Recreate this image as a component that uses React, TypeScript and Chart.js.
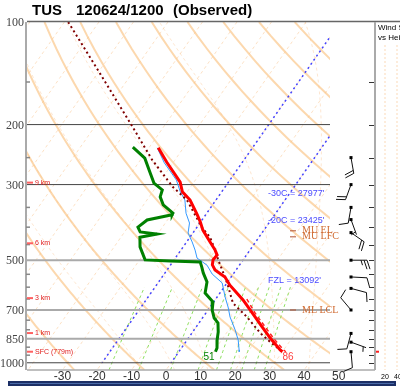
import React, { useEffect, useRef } from "react";
import { Chart, registerables } from "chart.js";

Chart.register(...registerables);

// ---------- titles ----------
const TITLE_STATION = "TUS";
const TITLE_TIME = "120624/1200";
const TITLE_KIND = "(Observed)";

// ---------- diagram frame ----------
const P_TOP = 100;
const P_BOTTOM = 1050;
const X_LEFT = -40.3;
const X_RIGHT = 47.5;
const SKEW = 30; // deg C per unit ln(p)

const PRESSURE_LINES = [200, 300, 500, 700, 850, 1000];
const PRESSURE_LINE_DARK = [true, true, false, false, false, true];
const PRESSURE_LABELS = [100, 200, 300, 500, 700, 850, 1000];
const PRESSURE_TICKS = [150, 250, 350, 400, 450, 550, 600, 650, 750, 800, 900, 950];
const WIND_TICKS = [150, 200, 250, 300, 350, 400, 450, 500, 550, 600, 650, 700, 750, 800, 850, 900, 950, 1000];
const TEMP_TICKS = [-30, -20, -10, 0, 10, 20, 30, 40, 50];

// ---------- background lines ----------
const ISOTHERMS = [-110, -100, -90, -80, -70, -60, -50, -40, -30, -20, -10, 0, 10, 20, 30, 40];
const DRY_ADIABATS_K = [243.15, 263.15, 283.15, 303.15, 323.15, 343.15, 363.15, 383.15, 403.15, 423.15, 443.15, 463.15, 483.15];
const MOIST_ADIABATS_C = [-10, 0, 10, 20, 30, 40];
const MIXING_RATIOS = [1, 2, 4, 7, 10, 13, 16, 20, 24];
const BLUE_ISOTHERMS = [-20, 0];

// ---------- observed profile ----------
const TEMP_P = [234, 258, 295, 315, 333, 368, 386, 408, 442, 467, 483, 499, 516, 534, 560, 592, 654, 714, 785, 846, 917, 928];
const TEMP_T = [-47.3, -41.9, -34.0, -31.4, -27.5, -22.4, -20.1, -17.7, -13.2, -10.1, -8.5, -8.7, -7.9, -6.1, -1.8, 1.3, 8.1, 13.4, 19.1, 23.7, 29.0, 30.0];

const DEW_P = [233, 251, 277, 297, 311, 326, 344, 364, 368, 381, 400, 413, 419, 428, 457, 499, 503, 506, 524, 545, 579, 624, 663, 700, 739, 764, 812, 857, 905, 928];
const DEW_T = [-54.8, -49.1, -44.6, -41.4, -37.6, -36.8, -34.3, -29.8, -29.7, -35.9, -37.1, -35.5, -30.2, -34.5, -32.5, -28.4, -20.9, -12.0, -10.5, -8.9, -6.0, -4.3, -0.2, 1.2, 3.4, 5.5, 7.4, 8.7, 10.3, 10.6];

const WETBULB_P = [234, 259, 291, 315, 333, 364, 389, 416, 442, 467, 493, 517, 549, 583, 641, 686, 734, 801, 857, 917, 928];
const WETBULB_T = [-47.6, -42.5, -35.5, -32.0, -29.0, -26.0, -23.0, -21.4, -18.4, -15.9, -13.7, -9.4, -6.1, -1.4, 2.3, 5.2, 7.8, 11.9, 14.8, 17.1, 17.5];

const PARCEL_P = [100, 142, 202, 254, 305, 333, 400, 428, 467, 499, 560, 592, 668, 734, 818, 869, 928];
const PARCEL_T = [-98.9, -79.1, -59.3, -46.6, -35.1, -28.4, -18.6, -14.2, -10.1, -7.2, -1.8, 0.7, 5.8, 12.7, 19.8, 24.5, 30.0];

const VIRTUAL_P = [650, 714, 785, 846, 917, 928];
const VIRTUAL_T = [9.0, 14.2, 20.0, 24.6, 30.0, 31.0];

// ---------- winds ----------
const WIND_P = [250, 300, 350, 380, 415, 500, 560, 605, 700, 820, 870, 928];
const WIND_DIR = [170, 200, 190, 160, 125, 90, 93, 105, 320, 195, 110, 175];
const WIND_KT = [20, 20, 10, 5, 20, 25, 10, 10, 10, 10, 5, 10];

// ---------- annotations ----------
const HEIGHT_LABELS = ["9 km", "6 km", "3 km", "1 km", "SFC (779m)"];
const HEIGHT_P = [296, 446, 646, 818, 928];
const LEVEL_LABELS = ["-30C = 27977'", "-20C = 23425'", "FZL = 13092'"];
const LEVEL_P = [322, 388, 580];
const PARCEL_LABELS = ["MU EL", "MU LFC", "ML LCL"];
const PARCEL_LABEL_P = [410, 427, 700];
const SFC_DEW_F = "51";
const SFC_TEMP_F = "86";

const skewX = (t: number, p: number) => t + SKEW * Math.log(P_BOTTOM / p);
const profile = (ps: number[], ts: number[]) => ps.map((p, i) => ({ x: skewX(ts[i], p), y: p }));

const LEVELS: number[] = [];
for (let p = P_TOP; p <= P_BOTTOM; p += 10) LEVELS.push(p);

function dryAdiabat(theta: number) {
  return LEVELS.map((p) => ({ x: skewX(theta * Math.pow(p / 1000, 0.2857) - 273.15, p), y: p }));
}

function moistRate(T: number, p: number) {
  const tc = T - 273.15;
  const es = 6.112 * Math.exp((17.67 * tc) / (tc + 243.5));
  const rs = (0.622 * es) / (p - es);
  const num = 287 * T + 2.5e6 * rs;
  const den = 1005 + (2.5e6 * 2.5e6 * rs * 0.622) / (287 * T * T);
  return num / den / p;
}

function moistAdiabat(t1000: number) {
  let T = t1000 + 273.15;
  for (let p = 1000; p < P_BOTTOM; p += 5) {
    T += moistRate(T + moistRate(T, p) * 2.5, p + 2.5) * 5;
  }
  const pts: { x: number; y: number }[] = [{ x: skewX(T - 273.15, P_BOTTOM), y: P_BOTTOM }];
  T = t1000 + 273.15;
  pts.push({ x: skewX(t1000, 1000), y: 1000 });
  for (let p = 1000; p > P_TOP; p -= 5) {
    T -= moistRate(T - moistRate(T, p) * 2.5, p - 2.5) * 5;
    pts.push({ x: skewX(T - 273.15, p - 5), y: p - 5 });
  }
  return pts;
}

function mixingLine(w: number) {
  const pts: { x: number; y: number }[] = [];
  for (let p = P_BOTTOM; p >= 600; p -= 25) {
    const e = (w * p) / (622 + w);
    const l = Math.log(e / 6.112);
    const td = (243.5 * l) / (17.67 - l);
    pts.push({ x: skewX(td, p), y: p });
  }
  return pts;
}

function line(data: any[], color: string, width: number, dash: number[], order: number) {
  return {
    data,
    borderColor: color,
    backgroundColor: color,
    borderWidth: width,
    borderDash: dash,
    showLine: true,
    pointRadius: 0,
    pointHoverRadius: 0,
    fill: false,
    tension: 0,
    order,
  };
}

function drawBarb(ctx: CanvasRenderingContext2D, x: number, y: number, dir: number, spd: number) {
  const rad = (dir * Math.PI) / 180;
  const dx = Math.sin(rad);
  const dy = -Math.cos(rad);
  const L = 16;
  const ex = x + dx * L;
  const ey = y + dy * L;
  ctx.strokeStyle = "#111";
  ctx.lineWidth = 1;
  ctx.beginPath();
  ctx.moveTo(x, y);
  ctx.lineTo(ex, ey);
  ctx.stroke();
  ctx.fillStyle = "#000";
  ctx.fillRect(x - 1.5, y - 1.5, 3, 3);
  const px = -dy;
  const py = dx;
  let s = Math.round(spd / 5) * 5;
  let pos = 0;
  while (s >= 10) {
    const bx = ex - dx * pos;
    const by = ey - dy * pos;
    ctx.beginPath();
    ctx.moveTo(bx, by);
    ctx.lineTo(bx + px * 9 + dx * 3, by + py * 9 + dy * 3);
    ctx.stroke();
    pos += 3;
    s -= 10;
  }
  if (s >= 5) {
    if (pos === 0) pos = 3;
    const bx = ex - dx * pos;
    const by = ey - dy * pos;
    ctx.beginPath();
    ctx.moveTo(bx, by);
    ctx.lineTo(bx + px * 5 + dx * 1.5, by + py * 5 + dy * 1.5);
    ctx.stroke();
  }
}

const overlay = {
  id: "overlay",
  beforeDraw(chart: any) {
    const ctx = chart.ctx;
    ctx.save();
    ctx.fillStyle = "#ffffff";
    ctx.fillRect(0, 0, chart.width, chart.height);
    ctx.restore();
  },
  afterDraw(chart: any) {
    const ctx: CanvasRenderingContext2D = chart.ctx;
    const xs = chart.scales.x;
    const ys = chart.scales.y;
    const a = chart.chartArea;
    ctx.save();

    // frame
    ctx.strokeStyle = "#666";
    ctx.lineWidth = 1.5;
    ctx.beginPath();
    ctx.moveTo(a.left, a.top - 0.5);
    ctx.lineTo(400, a.top - 0.5);
    ctx.stroke();
    ctx.strokeStyle = "#aaa";
    ctx.lineWidth = 2;
    ctx.beginPath();
    ctx.moveTo(a.left - 1, a.top);
    ctx.lineTo(a.left - 1, a.bottom);
    ctx.stroke();
    ctx.lineWidth = 1.5;
    ctx.beginPath();
    ctx.moveTo(a.left, a.bottom);
    ctx.lineTo(375, a.bottom);
    ctx.stroke();
    ctx.lineWidth = 2;
    ctx.beginPath();
    ctx.moveTo(375, a.top);
    ctx.lineTo(375, a.bottom);
    ctx.stroke();

    // left ticks
    ctx.strokeStyle = "#888";
    ctx.lineWidth = 1.5;
    PRESSURE_TICKS.forEach((p) => {
      const y = ys.getPixelForValue(p);
      ctx.beginPath();
      ctx.moveTo(a.left - 1, y);
      ctx.lineTo(a.left + 3, y);
      ctx.stroke();
    });
    // wind column ticks
    ctx.strokeStyle = "#333";
    ctx.lineWidth = 1;
    WIND_TICKS.forEach((p) => {
      const y = Math.round(ys.getPixelForValue(p)) + 0.5;
      ctx.beginPath();
      ctx.moveTo(369, y);
      ctx.lineTo(374, y);
      ctx.stroke();
    });

    // pressure labels
    ctx.fillStyle = "#444";
    ctx.font = "12px 'Liberation Serif'";
    ctx.textAlign = "right";
    ctx.textBaseline = "middle";
    PRESSURE_LABELS.forEach((p) => ctx.fillText(String(p), 24, ys.getPixelForValue(p) + 1));

    // temperature labels
    ctx.fillStyle = "#333";
    ctx.font = "12px 'Liberation Sans'";
    ctx.textAlign = "center";
    TEMP_TICKS.forEach((t) => ctx.fillText(String(t), xs.getPixelForValue(t), 377));

    // title
    ctx.fillStyle = "#000";
    ctx.font = "bold 15px 'Liberation Sans'";
    ctx.textAlign = "left";
    ctx.textBaseline = "alphabetic";
    ctx.fillText(TITLE_STATION, 32, 15);
    ctx.fillText(TITLE_TIME, 76, 15);
    ctx.fillText(TITLE_KIND, 173, 15);

    // height labels
    ctx.font = "7px 'Liberation Sans'";
    ctx.textBaseline = "middle";
    HEIGHT_LABELS.forEach((t, i) => {
      const y = ys.getPixelForValue(HEIGHT_P[i]);
      ctx.strokeStyle = "#ff6060";
      ctx.lineWidth = 2;
      ctx.beginPath();
      ctx.moveTo(a.left, y);
      ctx.lineTo(a.left + 6, y);
      ctx.stroke();
      ctx.fillStyle = "#e02020";
      ctx.fillText(t, a.left + 8, y);
    });

    // level labels
    ctx.font = "9px 'Liberation Sans'";
    ctx.fillStyle = "#4a4aff";
    LEVEL_LABELS.forEach((t, i) => ctx.fillText(t, 268, ys.getPixelForValue(LEVEL_P[i]) - 2));

    // parcel labels
    ctx.font = "10px 'Liberation Serif'";
    PARCEL_LABELS.forEach((t, i) => {
      const y = ys.getPixelForValue(PARCEL_LABEL_P[i]);
      ctx.strokeStyle = "#b05030";
      ctx.lineWidth = 1;
      ctx.beginPath();
      ctx.moveTo(290, y);
      ctx.lineTo(296, y);
      ctx.stroke();
      ctx.fillStyle = "#d06a30";
      ctx.fillText(t, 302, y);
    });

    // surface values
    ctx.font = "10px 'Liberation Sans'";
    ctx.textAlign = "center";
    ctx.fillStyle = "#008000";
    ctx.fillText(SFC_DEW_F, 209, 357);
    ctx.fillStyle = "#ff4040";
    ctx.fillText(SFC_TEMP_F, 288, 357);

    // wind barbs
    WIND_P.forEach((p, i) => drawBarb(ctx, 351, ys.getPixelForValue(p), WIND_DIR[i], WIND_KT[i]));

    // right panel
    ctx.fillStyle = "#000";
    ctx.textAlign = "left";
    ctx.font = "8px 'Liberation Sans'";
    ctx.fillText("Wind S", 378, 28);
    ctx.fillText("vs Hei", 378, 38);
    ctx.strokeStyle = "#fbd9b8";
    ctx.setLineDash([2, 2]);
    [385, 397].forEach((x) => {
      ctx.beginPath();
      ctx.moveTo(x, 45);
      ctx.lineTo(x, a.bottom);
      ctx.stroke();
    });
    ctx.setLineDash([]);
    ctx.fillStyle = "#ff2020";
    ctx.fillRect(376, ys.getPixelForValue(HEIGHT_P[4]) - 1, 3, 2);
    ctx.fillStyle = "#000";
    ctx.font = "7px 'Liberation Sans'";
    ctx.fillText("20", 381, 377);
    ctx.fillText("40", 394, 377);

    // bottom bar
    ctx.fillStyle = "#1c2f66";
    ctx.fillRect(8, 381, 388, 5);
    ctx.fillStyle = "#4a6aa8";
    ctx.fillRect(10, 383, 384, 1);

    ctx.restore();
  },
};

export default function App() {
  const ref = useRef<HTMLCanvasElement | null>(null);
  useEffect(() => {
    if (!ref.current) return;
    const datasets: any[] = [];
    ISOTHERMS.forEach((t) =>
      datasets.push(line([{ x: skewX(t, P_TOP), y: P_TOP }, { x: skewX(t, P_BOTTOM), y: P_BOTTOM }], "rgba(250,200,150,0.55)", 1, [3, 3], 20))
    );
    MOIST_ADIABATS_C.forEach((t) => datasets.push(line(moistAdiabat(t), "rgba(250,200,150,0.45)", 1, [3, 3], 19)));
    DRY_ADIABATS_K.forEach((th) => datasets.push(line(dryAdiabat(th), "rgba(250,190,120,0.6)", 2, [], 18)));
    MIXING_RATIOS.forEach((w) => datasets.push(line(mixingLine(w), "#8fe060", 1, [3, 3], 17)));
    BLUE_ISOTHERMS.forEach((t) =>
      datasets.push(line([{ x: skewX(t, P_TOP), y: P_TOP }, { x: skewX(t, 1000), y: 1000 }], "#4444ff", 1.5, [2, 3], 16))
    );
    PRESSURE_LINES.forEach((p, i) =>
      datasets.push(
        line([{ x: X_LEFT, y: p }, { x: X_RIGHT, y: p }], PRESSURE_LINE_DARK[i] ? "#444" : "#aaa", PRESSURE_LINE_DARK[i] ? 1 : 2, [], 15)
      )
    );
    datasets.push(line(profile(VIRTUAL_P, VIRTUAL_T), "#ff2020", 1.5, [4, 3], 5));
    datasets.push(line(profile(WETBULB_P, WETBULB_T), "#3399ff", 1, [], 4));
    datasets.push(line(profile(PARCEL_P, PARCEL_T), "#800000", 2, [2, 3], 3));
    datasets.push(line(profile(DEW_P, DEW_T), "#008000", 3, [], 2));
    datasets.push(line(profile(TEMP_P, TEMP_T), "#ff0000", 3, [], 1));

    const chart = new Chart(ref.current, {
      type: "scatter",
      data: { datasets },
      options: {
        animation: false,
        responsive: false,
        events: [],
        layout: { padding: { left: 27, right: 70, top: 22, bottom: 16 } },
        plugins: { legend: { display: false }, tooltip: { enabled: false } },
        scales: {
          x: { type: "linear", min: X_LEFT, max: X_RIGHT, display: false },
          y: { type: "logarithmic", min: P_TOP, max: P_BOTTOM, reverse: true, display: false },
        },
      },
      plugins: [overlay],
    } as any);
    return () => chart.destroy();
  }, []);
  return (
    <div style={{ position: "fixed", left: 0, top: 0, width: 400, height: 386, background: "#fff" }}>
      <canvas ref={ref} width={400} height={386} style={{ width: 400, height: 386, display: "block" }} />
    </div>
  );
}
